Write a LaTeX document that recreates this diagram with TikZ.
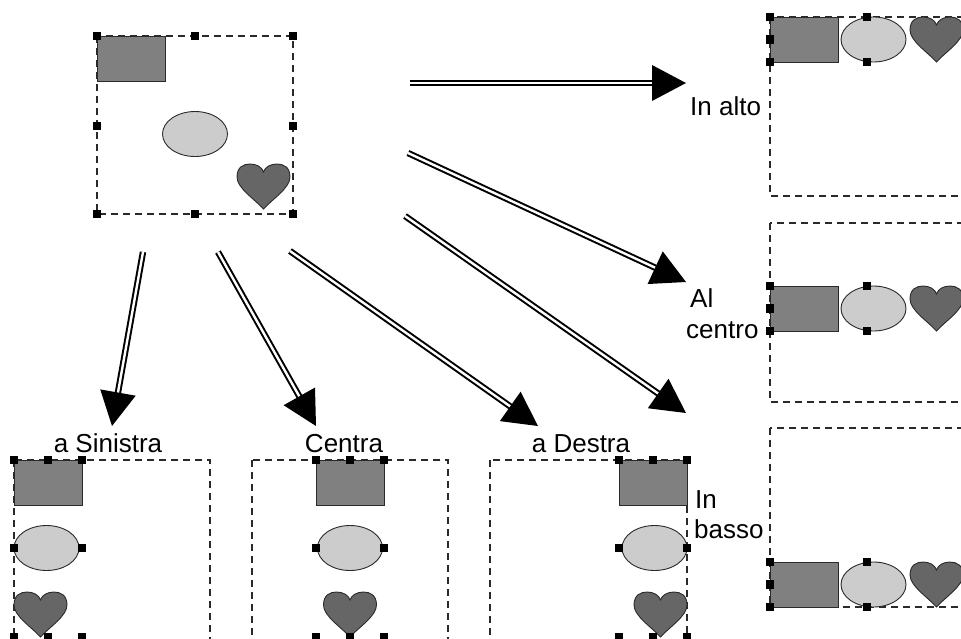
\documentclass[tikz,border=0pt]{standalone}
\usepackage{fontspec}
\setmainfont{Liberation Sans}
\usetikzlibrary{calc,shapes.geometric}
\definecolor{rectc}{HTML}{808080}
\definecolor{ellc}{HTML}{CCCCCC}
\definecolor{heartc}{HTML}{666666}
\definecolor{edgec}{HTML}{2A2A2A}
\tikzset{
  grp/.style={draw=edgec, dash pattern=on 7pt off 5pt, line width=1.1pt},
  shp/.style={draw=edgec, line width=0.9pt},
  rectshape/.style={shp, fill=rectc, rectangle, minimum width=68pt, minimum height=45pt, inner sep=0pt, anchor=north west},
  ellshape/.style={shp, fill=ellc, ellipse, minimum width=65pt, minimum height=45pt, inner sep=0pt},
  dblline/.style={double, line width=2pt, double distance=2.4pt},
  lbl/.style={font=\fontsize{26}{30}\selectfont, inner sep=0pt},
  heart/.pic={
    \filldraw[shp, fill=heartc] (0,45) .. controls (-9,35) and (-26.5,24) .. (-26.5,13)
      .. controls (-26.5,3) and (-20,0) .. (-13.5,0)
      .. controls (-7,0) and (-1.5,3) .. (0,8)
      .. controls (1.5,3) and (7,0) .. (13.5,0)
      .. controls (20,0) and (26.5,3) .. (26.5,13)
      .. controls (26.5,24) and (9,35) .. (0,45) -- cycle;
  }
}
\newcommand\hnd[1]{\fill[black] (#1) ++(-4.2,-4.2) rectangle ++(8.4,8.4);}
\newcommand\dblarrow[2]{%
  \draw[dblline] (#1) -- ($(#2)!30pt!(#1)$);
  \fill[black] (#2) -- ($(#2)!34pt!(#1)!18pt!90:(#1)$) -- ($(#2)!34pt!(#1)!18pt!-90:(#1)$) -- cycle;
}
\begin{document}
\begin{tikzpicture}[x=1pt,y=-1pt]
\useasboundingbox (0,0) rectangle (961,638);
\clip (0,0) rectangle (961,638);

% ---------- source group (top left) ----------
\draw[grp] (97,36) rectangle (293,214);
\node[rectshape] (r0) at (97,36) {};
\node[ellshape] (e0) at (195,134) {};
\pic at (263.5,164) {heart};
\foreach \p in {{97,36},{195,36},{293,36},{97,126},{293,126},{97,214},{195,214},{293,214}}{
  \hnd{\p}
}

% ---------- right column ----------
\draw[grp] (770,17) rectangle (1000,196);
\draw[grp] (770,223) rectangle (1000,402);
\draw[grp] (770,428) rectangle (1000,607);
\node[rectshape] (ra) at (770,17) {};
\node[ellshape] (ea) at (873.5,39.5) {};
\pic at (936.5,17) {heart};
\node[rectshape] (rc) at (770,286) {};
\node[ellshape] (ec) at (873.5,308.5) {};
\pic at (936.5,286) {heart};
\node[rectshape] (rb) at (770,562) {};
\node[ellshape] (eb) at (873.5,584.5) {};
\pic at (936.5,562) {heart};
\foreach \y in {17,286,562}{
  \hnd{770,\y}
  \hnd{770,\y+22.5}
  \hnd{770,\y+45}
  \hnd{867,\y}
  \hnd{867,\y+45}
}

% ---------- bottom row ----------
\draw[grp] (14,460) rectangle (210,700);
\draw[grp] (252,460) rectangle (448,700);
\draw[grp] (490,460) rectangle (687,700);

\node[rectshape] (rl) at (14,460) {};
\node[ellshape] (el) at (46.5,548) {};
\pic at (40.5,592) {heart};
\node[rectshape] (rm) at (316,460) {};
\node[ellshape] (em) at (350,548) {};
\pic at (350,592) {heart};
\node[rectshape] (rr) at (619,460) {};
\node[ellshape] (er) at (654.5,548) {};
\pic at (660.5,592) {heart};
\foreach \x in {14,316,619}{
  \hnd{\x,460}
  \hnd{\x+34,460}
  \hnd{\x+68,460}
  \hnd{\x,548}
  \hnd{\x+68,548}
  \hnd{\x,637}
  \hnd{\x+34,637}
  \hnd{\x+68,637}
}

% ---------- labels ----------
\node[lbl, anchor=base west] (lalto) at (690,115) {In alto};
\node[lbl, anchor=base west] (lal) at (690,307) {Al};
\node[lbl, anchor=base west] (lcentro) at (686,338) {centro};
\node[lbl, anchor=base west] (lin) at (695,508) {In};
\node[lbl, anchor=base west] (lbasso) at (694,538) {basso};
\node[lbl, anchor=base] (lsin) at (108,452) {a Sinistra};
\node[lbl, anchor=base] (lcen) at (344,452) {Centra};
\node[lbl, anchor=base] (ldes) at (581,452) {a Destra};

% ---------- arrows ----------
\coordinate (s1) at (410,83);  \coordinate (t1) at (686,83);
\coordinate (s2) at (408,153); \coordinate (t2) at (686,282);
\coordinate (s3) at (405,216); \coordinate (t3) at (686,413);
\coordinate (s4) at (143,252); \coordinate (t4) at (112,426);
\coordinate (s5) at (218,252); \coordinate (t5) at (316,426);
\coordinate (s6) at (290,251); \coordinate (t6) at (538,426);
\dblarrow{s1}{t1}
\dblarrow{s2}{t2}
\dblarrow{s3}{t3}
\dblarrow{s4}{t4}
\dblarrow{s5}{t5}
\dblarrow{s6}{t6}
\end{tikzpicture}
\end{document}
